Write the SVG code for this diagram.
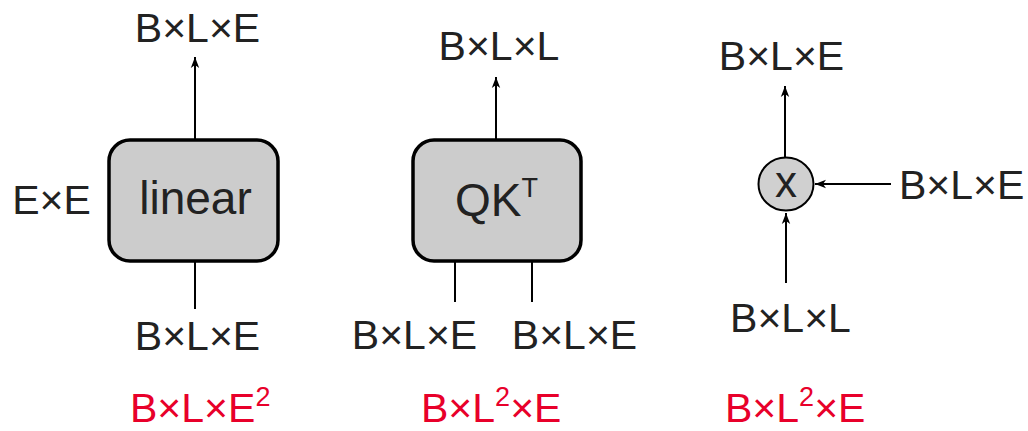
<svg xmlns="http://www.w3.org/2000/svg" width="1028" height="431" viewBox="0 0 1028 431">
  <style>
    text { font-family: "Liberation Sans", Arial, sans-serif; fill: #222222; }
    .lbl { font-size: 41px; }
    .cost { font-size: 41px; fill: #e8002a; }
    .sup { font-size: 27px; }
    .box { fill: #cccccc; stroke: #000000; stroke-width: 3.5; }
    .op { fill: #d0d0d0; stroke: #000000; stroke-width: 2; }
    .wire { stroke: #000000; stroke-width: 2; fill: none; }
    .arrow { marker-end: url(#head); }
  </style>
  <defs>
    <marker id="head" markerUnits="userSpaceOnUse" markerWidth="12" markerHeight="10" refX="11" refY="5" orient="auto">
      <path d="M0,0.8 L11,5 L0,9.2 L3,5 Z" fill="#000000"/>
    </marker>
  </defs>
  <rect width="1028" height="431" fill="#ffffff"/>

  <!-- connectors -->
  <g id="connectors">
    <line class="wire arrow" x1="195" y1="139" x2="195" y2="57"/>
    <line class="wire" x1="195" y1="261" x2="195" y2="309"/>
    <line class="wire arrow" x1="496" y1="139" x2="496" y2="77"/>
    <line class="wire" x1="455" y1="261" x2="455" y2="302"/>
    <line class="wire" x1="532" y1="261" x2="532" y2="302"/>
    <line class="wire arrow" x1="785" y1="157" x2="785" y2="86"/>
    <line class="wire arrow" x1="891" y1="184" x2="815" y2="184"/>
    <line class="wire arrow" x1="786" y1="283" x2="786" y2="213"/>
  </g>

  <!-- linear layer -->
  <g id="linear">
    <rect class="box" x="109" y="140" width="169" height="121" rx="21" ry="21"/>
    <text x="195.5" y="214" font-size="46" text-anchor="middle">linear</text>
    <text class="lbl" x="51.5" y="214" text-anchor="middle">E×E</text>
    <text class="lbl" x="197.5" y="42" text-anchor="middle">B×L×E</text>
    <text class="lbl" x="197.5" y="350" text-anchor="middle">B×L×E</text>
    <text class="cost" x="130" y="422">B×L×E<tspan class="sup" dy="-16">2</tspan></text>
  </g>

  <!-- QK^T product -->
  <g id="qkt">
    <rect class="box" x="413" y="140" width="168" height="121" rx="21" ry="21"/>
    <text x="455" y="216" font-size="46">QK<tspan font-size="27" dy="-19">T</tspan></text>
    <text class="lbl" x="499" y="60" text-anchor="middle">B×L×L</text>
    <text class="lbl" x="414.5" y="349" text-anchor="middle">B×L×E</text>
    <text class="lbl" x="574.5" y="349" text-anchor="middle">B×L×E</text>
    <text class="cost" x="421" y="422">B×L<tspan class="sup" dy="-16">2</tspan><tspan dy="16">×E</tspan></text>
  </g>

  <!-- weighted sum -->
  <g id="matmul">
    <ellipse class="op" cx="786" cy="184" rx="27.5" ry="26.5"/>
    <text x="786" y="197" font-size="44" text-anchor="middle" fill="#000000">x</text>
    <text class="lbl" x="781.5" y="70" text-anchor="middle">B×L×E</text>
    <text class="lbl" x="899" y="199">B×L×E</text>
    <text class="lbl" x="790.5" y="332" text-anchor="middle">B×L×L</text>
    <text class="cost" x="725" y="422">B×L<tspan class="sup" dy="-16">2</tspan><tspan dy="16">×E</tspan></text>
  </g>
</svg>
